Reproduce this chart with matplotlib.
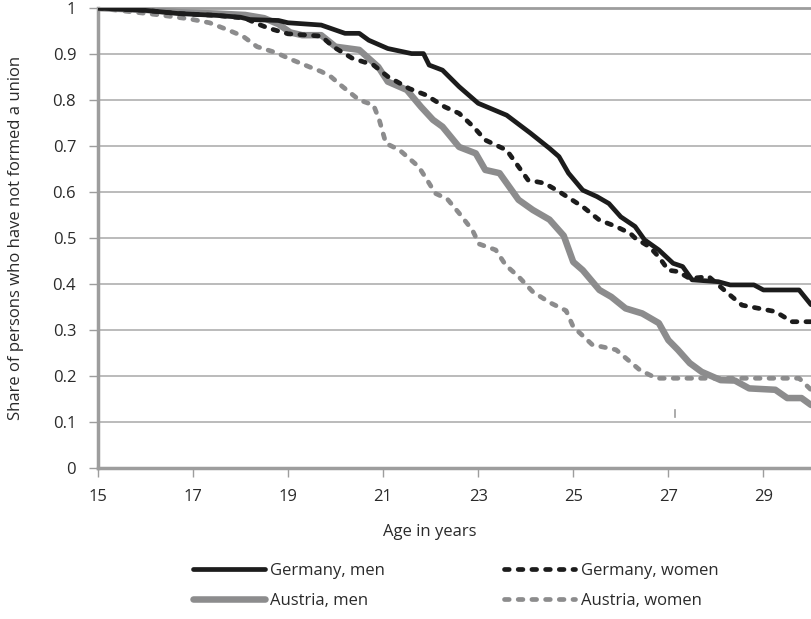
import matplotlib
matplotlib.use('Agg')
import matplotlib.pyplot as plt

plt.rcParams['font.family'] = ['Open Sans', 'DejaVu Sans']

# Share of persons who have not formed a union
age_de_men = [15, 16.0, 16.7, 17.5, 18.0, 18.2, 18.8, 19.0, 19.7, 20.2, 20.5, 20.7, 21.1, 21.6,
              21.85, 21.97, 22.25, 22.6, 23.0, 23.6, 24.1, 24.5, 24.7, 24.9, 25.2, 25.5, 25.75,
              26.0, 26.3, 26.5, 26.8, 27.1, 27.3, 27.5, 28.05, 28.3, 28.8, 29.0, 29.75, 30.0]
share_de_men = [1.0, 0.995, 0.988, 0.984, 0.980, 0.975, 0.973, 0.968, 0.963, 0.945, 0.945, 0.930,
                0.912, 0.901, 0.901, 0.876, 0.865, 0.829, 0.793, 0.767, 0.728, 0.695, 0.677, 0.641,
                0.604, 0.590, 0.575, 0.546, 0.525, 0.496, 0.474, 0.445, 0.438, 0.409, 0.405, 0.398,
                0.398, 0.387, 0.387, 0.355]

age_de_women = [15, 16.0, 16.7, 17.5, 18.1, 18.35, 18.6, 19.0, 19.7, 19.95, 20.35, 20.8, 21.1,
                21.55, 21.9, 22.3, 22.6, 22.9, 23.15, 23.6, 23.85, 24.05, 24.4, 24.7, 25.2, 25.55,
                25.9, 26.2, 26.3, 26.6, 26.8, 27.0, 27.2, 27.45, 27.85, 28.25, 28.55, 29.25, 29.6, 30.0]
share_de_women = [1.0, 0.995, 0.988, 0.984, 0.978, 0.966, 0.956, 0.944, 0.939, 0.916, 0.891,
                  0.876, 0.851, 0.825, 0.811, 0.785, 0.771, 0.742, 0.713, 0.691, 0.655, 0.626,
                  0.619, 0.601, 0.568, 0.539, 0.525, 0.510, 0.500, 0.481, 0.459, 0.430, 0.427,
                  0.412, 0.416, 0.380, 0.354, 0.340, 0.318, 0.318]

age_at_men = [15, 16.0, 16.7, 17.5, 18.1, 18.5, 18.8, 19.05, 19.3, 19.7, 20.0, 20.5, 20.9, 21.1,
              21.5, 21.8, 22.05, 22.25, 22.6, 22.95, 23.15, 23.45, 23.85, 24.15, 24.5, 24.8, 25.0,
              25.2, 25.55, 25.8, 26.1, 26.45, 26.8, 27.0, 27.2, 27.45, 27.7, 28.1, 28.4, 28.7,
              29.25, 29.5, 29.8, 30.0]
share_at_men = [1.0, 0.996, 0.991, 0.988, 0.985, 0.978, 0.965, 0.947, 0.941, 0.941, 0.916, 0.909,
                0.872, 0.840, 0.822, 0.785, 0.757, 0.742, 0.698, 0.684, 0.648, 0.641, 0.583, 0.561,
                0.540, 0.505, 0.448, 0.430, 0.387, 0.372, 0.347, 0.336, 0.315, 0.278, 0.257, 0.228,
                0.209, 0.191, 0.190, 0.173, 0.170, 0.152, 0.152, 0.137]

age_at_women = [15, 16.3, 16.95, 17.35, 17.7, 18.05, 18.35, 18.75, 19.05, 19.5, 19.7, 19.9, 20.15,
                20.5, 20.8, 20.92, 21.06, 21.35, 21.75, 21.97, 22.1, 22.35, 22.6, 22.88, 23.02,
                23.37, 23.58, 23.86, 24.15, 24.5, 24.85, 25.0, 25.4, 25.9, 26.15, 26.4, 26.75,
                29.75, 30.0]
share_at_women = [1.0, 0.985, 0.976, 0.968, 0.954, 0.939, 0.916, 0.903, 0.889, 0.870, 0.862,
                  0.851, 0.829, 0.800, 0.789, 0.757, 0.706, 0.691, 0.655, 0.619, 0.597, 0.585,
                  0.554, 0.517, 0.487, 0.474, 0.441, 0.415, 0.383, 0.360, 0.342, 0.307, 0.268,
                  0.257, 0.235, 0.213, 0.195, 0.195, 0.170]

x_ticks = [15, 17, 19, 21, 23, 25, 27, 29]
y_ticks = [0, 0.1, 0.2, 0.3, 0.4, 0.5, 0.6, 0.7, 0.8, 0.9, 1.0]
y_tick_labels = ['0', '0.1', '0.2', '0.3', '0.4', '0.5', '0.6', '0.7', '0.8', '0.9', '1']

black = '#1c1c1c'
grey = '#8c8c8d'
axis_grey = '#9d9d9d'
text_col = '#2a2a2a'
fs = 12

fig = plt.figure(figsize=(8.11, 6.19), dpi=100)
ax = fig.add_axes([0.1205, 0.244, 0.8795, 0.743])

ax.plot(age_de_men, share_de_men, color=black, lw=3.4, solid_joinstyle='round',
        solid_capstyle='round', label='Germany, men', zorder=4)
ax.plot(age_at_men, share_at_men, color=grey, lw=4.7, solid_joinstyle='round',
        solid_capstyle='round', label='Austria, men', zorder=3)
ax.plot(age_de_women, share_de_women, color=black, lw=3.4, dashes=(1.0, 1.9),
        dash_capstyle='round', dash_joinstyle='round', label='Germany, women', zorder=4)
ax.plot(age_at_women, share_at_women, color=grey, lw=3.4, dashes=(1.0, 1.9),
        dash_capstyle='round', dash_joinstyle='round', label='Austria, women', zorder=3)

# small stray tick visible in the original near age 27
ax.plot([27.15, 27.15], [0.111, 0.126], color=axis_grey, lw=1.2, zorder=2)

ax.set_xlim(15, 30)
ax.set_ylim(0, 1)
ax.set_xticks(x_ticks)
ax.set_yticks(y_ticks)
ax.set_yticklabels(y_tick_labels)

ax.yaxis.grid(True, color='#a8a8a8', lw=1.1)
ax.set_axisbelow(True)

for side in ['left', 'bottom']:
    ax.spines[side].set_color(axis_grey)
    ax.spines[side].set_linewidth(2.5)
ax.spines['top'].set_color(axis_grey)
ax.spines['top'].set_linewidth(2.0)
ax.spines['right'].set_visible(False)

ax.tick_params(axis='both', direction='out', length=6.5, width=1.0, color=axis_grey,
               labelsize=fs, labelcolor=text_col, pad=9)

ax.set_ylabel('Share of persons who have not formed a union', fontsize=fs, color=text_col)
ax.yaxis.set_label_coords(-0.103, 0.5)
ax.set_xlabel('Age in years', fontsize=fs, color=text_col)
ax.xaxis.set_label_coords(0.465, -0.122)

handles, labels = ax.get_legend_handles_labels()
fig.legend(handles, labels, ncol=2, loc='center', bbox_to_anchor=(0.562, 0.053),
           frameon=False, fontsize=fs, handlelength=4.3, handletextpad=0.35,
           columnspacing=7.1, labelspacing=0.85, borderaxespad=0, labelcolor=text_col)

fig.savefig('out.png', dpi=100)
